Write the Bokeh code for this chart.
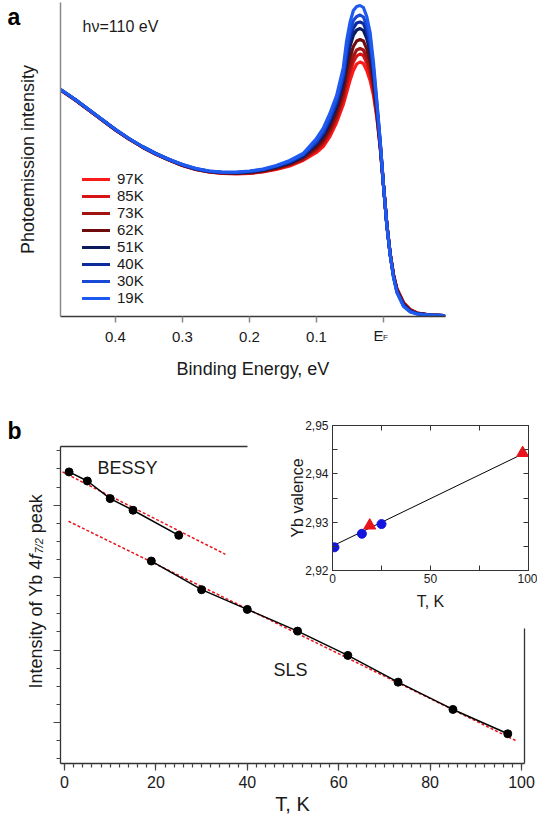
from math import pi

from bokeh.embed import file_html
from bokeh.layouts import column
from bokeh.models import (CustomJSTickFormatter, FixedTicker, GridBox, Label,
                          Legend, LegendItem, LinearAxis, NumeralTickFormatter,
                          Range1d, SingleIntervalTicker)
from bokeh.plotting import figure
from bokeh.resources import INLINE

FONT = "Liberation Sans"
INK = "#1a1a1a"

# ---------------------------------------------------------------- panel a data
binding_energy = [0.482, 0.46, 0.44, 0.42, 0.40, 0.38, 0.36, 0.34, 0.32, 0.30,
                  0.28, 0.26, 0.24, 0.22, 0.20, 0.18, 0.16, 0.14, 0.12, 0.10,
                  0.09, 0.08, 0.07, 0.06, 0.055, 0.05, 0.045, 0.04, 0.035, 0.03,
                  0.025, 0.02, 0.015, 0.01, 0.005, 0.0, -0.005, -0.01, -0.015, -0.02,
                  -0.03, -0.04, -0.05, -0.07, -0.09]

spectrum_97K = [226.5, 216.5, 206.5, 196.5, 186.5, 177.5, 169.5, 162.5, 156.5, 151,
                147, 144.5, 143, 142.5, 143, 144.5, 147, 150.5, 156, 164,
                170, 180, 194, 212, 224, 236, 246, 252.5, 254.5, 253,
                246, 236, 221, 199, 169, 131, 92, 63, 42, 28,
                14, 7, 3.5, 1.5, 1]
spectrum_85K = [226.5, 216.5, 206.5, 196.5, 186.5, 177.5, 169.5, 162.5, 156.5, 151,
                147, 144.5, 143, 143, 143.5, 145, 147.5, 151.5, 157, 166,
                172.5, 183, 198, 217, 231.5, 244, 254.5, 260.5, 262.5, 261,
                253.5, 242.5, 225.5, 201.5, 170, 131, 92, 62.5, 41.5, 27.5,
                13.5, 6.5, 3.5, 1.5, 1]
spectrum_73K = [226.5, 216.5, 206.5, 196.5, 186.5, 177.5, 169.5, 162.5, 156.5, 151,
                147, 144.5, 143.5, 143, 143.5, 145, 148, 152, 157.5, 167.5,
                174.5, 185.5, 200.5, 221, 236.5, 250, 260.5, 266.5, 268, 266.5,
                259, 247.5, 229, 203, 170.5, 131, 92, 62.5, 41.5, 27,
                13, 6.5, 3.5, 1.5, 1]
spectrum_62K = [226.5, 216.5, 206.5, 196.5, 186.5, 177.5, 169.5, 162.5, 156.5, 151.5,
                147.5, 145, 143.5, 143.5, 144, 145.5, 148.5, 152.5, 159, 169.5,
                177, 189, 205, 227, 245, 259, 270, 275.5, 277, 275.5,
                267.5, 255, 234, 206, 172, 131, 91.5, 62, 41, 26.5,
                12.5, 6, 3, 1.5, 1]
spectrum_51K = [227, 217, 207, 197, 187, 178, 170, 163, 157, 151.5,
                147.5, 145, 144, 143.5, 144.5, 146.5, 149.5, 153.5, 160, 172.5,
                180.5, 193.5, 210, 234, 254.5, 270, 281.5, 286.5, 288, 286,
                278, 264.5, 240.5, 209, 173, 131, 91.5, 62, 40, 25.5,
                11.5, 5.5, 3, 1.5, 1]
spectrum_40K = [227, 217, 207, 197, 187, 178, 170, 163, 157, 151.5,
                147.5, 145, 144, 144, 145, 146.5, 150, 154.5, 161, 174,
                183, 196.5, 213, 238.5, 261, 277, 288.5, 293.5, 294.5, 293,
                284.5, 270, 244.5, 211, 174, 131, 91.5, 61.5, 40, 25,
                11, 5, 3, 1.5, 1]
spectrum_30K = [227, 217, 207, 197, 187, 178, 170, 163, 157, 152,
                148, 145.5, 144, 144, 145, 147, 150.5, 155, 162, 175.5,
                185, 199, 216.5, 242.5, 267, 284, 296, 300, 301.5, 299.5,
                291, 276, 248.5, 213, 175, 131, 91, 61.5, 39.5, 24.5,
                10.5, 5, 2.5, 1.5, 1]
spectrum_19K = [227, 217, 207, 197, 187, 178, 170, 163, 157, 152,
                148, 145.5, 144.5, 144.5, 145.5, 147.5, 151, 156, 163, 178,
                188, 203, 221, 249, 276, 294, 306, 310, 311, 309,
                300, 284, 254, 216, 176, 131, 91, 61, 39, 24,
                10, 4.5, 2.5, 1.5, 1]

temperature_labels = ["97K", "85K", "73K", "62K", "51K", "40K", "30K", "19K"]
spectra = [spectrum_97K, spectrum_85K, spectrum_73K, spectrum_62K,
           spectrum_51K, spectrum_40K, spectrum_30K, spectrum_19K]
curve_colors = ["#ff1a1a", "#d81414", "#a01414", "#6e0c0c",
                "#0c1a5c", "#0c2a9c", "#1848d4", "#1e5af0"]

energy_ticks = [0.4, 0.3, 0.2, 0.1]

# ---------------------------------------------------------------- panel b data
bessy_T = [1, 5, 10, 15, 25]
bessy_I = [4.459, 4.334, 4.091, 3.930, 3.584]
bessy_fit_T = [-0.44, 35.2]
bessy_fit_I = [4.459, 3.322]

sls_T = [19, 30, 40, 51, 62, 73, 85, 97]
sls_I = [3.229, 2.834, 2.562, 2.262, 1.927, 1.558, 1.181, 0.845]
sls_fit_T = [0.875, 98.7]
sls_fit_I = [3.778, 0.753]

# inset: Yb valence
val_bessy_T = [1, 15, 25]
val_bessy_V = [2.9248, 2.9276, 2.9296]
val_sls_T = [19, 97]
val_sls_V = [2.9293, 2.9443]
val_fit_T = [0.7, 98.5]
val_fit_V = [2.9252, 2.9444]

inset_T_ticks = [0, 50, 100]
inset_T_minor = [25, 75]
inset_V_ticks = [2.92, 2.93, 2.94, 2.95]
inset_V_minor = [2.925, 2.935, 2.945]


def text_label(p, x, y, text, size, **kw):
    lab = Label(x=x, y=y, text=text, text_font=FONT,
                text_font_size=size, text_color=kw.pop("color", INK), **kw)
    p.add_layout(lab)
    return lab


def text_layer(h):
    """Transparent full-size figure, in pixel coordinates (y downwards),
    carrying the texts that sit outside a plot frame."""
    t = figure(width=537, height=h, x_range=Range1d(0, 537),
               y_range=Range1d(h, 0), output_backend="svg",
               toolbar_location=None, x_axis_location=None,
               y_axis_location=None, min_border=0, min_border_left=0,
               min_border_right=0, min_border_top=0, min_border_bottom=0,
               background_fill_color=None, border_fill_color=None)
    t.outline_line_color = None
    t.grid.grid_line_color = None
    return t


# ================================================================ panel a
pa = figure(width=537, height=400,
            x_range=Range1d(0.482, -0.0925), y_range=Range1d(0, 314),
            output_backend="svg", toolbar_location=None,
            x_axis_location=None, y_axis_location=None,
            min_border_left=60, min_border_right=92,
            min_border_top=2, min_border_bottom=84)
pa.outline_line_color = None
pa.grid.grid_line_color = None

renderers = []
for spec, col in zip(spectra, curve_colors):
    r = pa.line(binding_energy, spec, line_color=col, line_width=3.2,
                line_join="round", line_cap="round")
    renderers.append(r)

xa = LinearAxis(ticker=FixedTicker(ticks=energy_ticks, minor_ticks=[0.0]),
                formatter=NumeralTickFormatter(format="0.0"),
                axis_label="Binding Energy, eV")
xa.axis_line_color = "#3a3a3a"
xa.axis_line_width = 1.5
xa.major_tick_line_color = "#888888"
xa.minor_tick_line_color = "#888888"
xa.major_tick_line_width = 1.5
xa.minor_tick_line_width = 1.5
xa.major_tick_out = 6
xa.major_tick_in = 0
xa.minor_tick_out = 6
xa.minor_tick_in = 0
xa.major_label_standoff = 9
xa.major_label_text_font = FONT
xa.major_label_text_font_size = "15px"
xa.major_label_text_color = INK
xa.axis_label_text_font = FONT
xa.axis_label_text_font_size = "18px"
xa.axis_label_text_font_style = "normal"
xa.axis_label_text_color = INK
xa.axis_label_standoff = 14
pa.add_layout(xa, "below")

ya = LinearAxis(ticker=FixedTicker(ticks=[]), axis_label="Photoemission intensity")
ya.axis_line_color = "#8a8a8a"
ya.axis_line_width = 1.5
ya.major_tick_out = 0
ya.major_tick_in = 0
ya.minor_tick_out = 0
ya.minor_tick_in = 0
ya.major_label_standoff = 0
ya.axis_label_text_font = FONT
ya.axis_label_text_font_size = "18px"
ya.axis_label_text_font_style = "normal"
ya.axis_label_text_color = INK
ya.axis_label_standoff = 23
pa.add_layout(ya, "left")

text_label(pa, 0.449, 290, "h\u03bd=110 eV", "16px", text_baseline="middle")

legend = Legend(items=[LegendItem(label=t, renderers=[r])
                       for t, r in zip(temperature_labels, renderers)],
                location=(22, 10), glyph_width=28, glyph_height=14,
                label_height=14, spacing=0, padding=0, margin=0,
                label_standoff=7, border_line_color=None,
                background_fill_alpha=0)
legend.label_text_font = FONT
legend.label_text_font_size = "15px"
legend.label_text_color = INK
pa.add_layout(legend, "center")

# texts of panel a that lie outside its frame
ta = text_layer(400)
text_label(ta, 7, 16, "a", "23px", text_font_style="bold",
           text_baseline="alphabetic", color="#000000")
text_label(ta, 373, 334.5, "E", "15px", text_baseline="alphabetic")
text_label(ta, 382.5, 336.5, "F", "8px", text_baseline="alphabetic")

# ================================================================ panel b
pb = figure(width=537, height=424,
            x_range=Range1d(-0.875, 100.66), y_range=Range1d(0.435, 4.81),
            output_backend="svg", toolbar_location=None,
            x_axis_location=None, y_axis_location=None,
            min_border_left=60, min_border_right=13,
            min_border_top=46, min_border_bottom=61)
pb.outline_line_color = None
pb.grid.grid_line_color = None

pb.line(bessy_fit_T, bessy_fit_I, line_color="#e8141c", line_width=1.5,
        line_dash="3 2")
pb.line(sls_fit_T, sls_fit_I, line_color="#e8141c", line_width=1.5,
        line_dash="3 2")
pb.line(bessy_T, bessy_I, line_color="black", line_width=1.5)
pb.line(sls_T, sls_I, line_color="black", line_width=1.5)
pb.scatter(bessy_T, bessy_I, size=8, color="black")
pb.scatter(sls_T, sls_I, size=8, color="black")

xb = LinearAxis(ticker=SingleIntervalTicker(interval=20, num_minor_ticks=10),
                axis_label="T, K")
yb = LinearAxis(ticker=SingleIntervalTicker(interval=1, num_minor_ticks=4))
for ax in (xb, yb):
    ax.axis_line_color = "#333333"
    ax.axis_line_width = 1.3
    ax.major_tick_line_color = "#444444"
    ax.minor_tick_line_color = "#444444"
    ax.major_tick_line_width = 1.2
    ax.minor_tick_line_width = 1.2
    ax.major_tick_out = 7
    ax.major_tick_in = 0
    ax.minor_tick_out = 4
    ax.minor_tick_in = 0
    ax.major_label_text_font = FONT
    ax.major_label_text_color = INK
    ax.axis_label_text_font = FONT
    ax.axis_label_text_font_style = "normal"
    ax.axis_label_text_color = INK
xb.major_label_text_font_size = "16px"
xb.major_label_standoff = 5
xb.axis_label_text_font_size = "20px"
xb.axis_label_standoff = 2
yb.major_label_text_color = None   # unlabeled intensity scale
yb.major_label_text_font_size = "10px"
yb.major_label_standoff = 0
pb.add_layout(xb, "below")
pb.add_layout(yb, "left")

# partial frame lines on the top and right, stopping where the inset sits
top_spine = LinearAxis(ticker=FixedTicker(ticks=[]), bounds=(-0.875, 40.04))
right_spine = LinearAxis(ticker=FixedTicker(ticks=[]), bounds=(0.435, 2.30))
for ax in (top_spine, right_spine):
    ax.axis_line_color = "#333333"
    ax.axis_line_width = 1.3
    ax.major_tick_out = 0
    ax.major_tick_in = 0
    ax.minor_tick_out = 0
    ax.minor_tick_in = 0
    ax.major_label_standoff = 0
pb.add_layout(top_spine, "above")
pb.add_layout(right_spine, "right")

text_label(pb, 7.22, 4.51, "BESSY", "18px", text_baseline="middle")
text_label(pb, 45.73, 1.72, "SLS", "18px", text_baseline="middle")

# ================================================================ inset
pin = figure(width=537, height=424,
             x_range=Range1d(0, 100), y_range=Range1d(2.92, 2.95),
             output_backend="svg", toolbar_location=None,
             x_axis_location=None, y_axis_location=None,
             min_border_left=332, min_border_right=9,
             min_border_top=25, min_border_bottom=254,
             background_fill_color=None, border_fill_color=None)
pin.outline_line_color = "#333333"
pin.outline_line_width = 1
pin.grid.grid_line_color = None

pin.line(val_fit_T, val_fit_V, line_color="black", line_width=1)
pin.scatter(val_bessy_T, val_bessy_V, size=9, color="#1414e0")
pin.scatter(val_sls_T, val_sls_V, marker="triangle", size=12, color="#e8141c")

xi = LinearAxis(ticker=FixedTicker(ticks=inset_T_ticks, minor_ticks=inset_T_minor),
                axis_label="T, K")
yi = LinearAxis(ticker=FixedTicker(ticks=inset_V_ticks, minor_ticks=inset_V_minor),
                formatter=CustomJSTickFormatter(
                    code="return tick.toFixed(2).replace('.', ',')"),
                axis_label="Yb valence")
# mirrored tick marks on the top and right edges (no labels)
xi_top = LinearAxis(ticker=FixedTicker(ticks=[],
                                       minor_ticks=inset_T_ticks + inset_T_minor))
yi_right = LinearAxis(ticker=FixedTicker(ticks=[],
                                         minor_ticks=inset_V_ticks + inset_V_minor))
for ax in (xi, yi, xi_top, yi_right):
    ax.axis_line_color = "#333333"
    ax.axis_line_width = 1
    ax.major_tick_line_color = "#333333"
    ax.minor_tick_line_color = "#333333"
    ax.major_tick_in = 5
    ax.major_tick_out = 0
    ax.minor_tick_in = 5
    ax.minor_tick_out = 0
    ax.major_label_text_font = FONT
    ax.major_label_text_font_size = "12px"
    ax.major_label_text_color = INK
    ax.axis_label_text_font = FONT
    ax.axis_label_text_font_size = "16px"
    ax.axis_label_text_font_style = "normal"
    ax.axis_label_text_color = INK
xi.major_label_standoff = 3
xi.axis_label_standoff = 7
yi.major_label_standoff = 4
yi.axis_label_standoff = -4
for ax in (xi_top, yi_right):
    ax.major_label_standoff = 0
pin.add_layout(xi, "below")
pin.add_layout(yi, "left")
pin.add_layout(xi_top, "above")
pin.add_layout(yi_right, "right")

# texts of panel b that lie outside its frame (pixel coordinates of the cell)
tb = text_layer(424)
text_label(tb, 7, 30, "b", "23px", text_font_style="bold",
           text_baseline="alphabetic", color="#000000")
# rotated y title with italic f and subscript 7/2
text_label(tb, 35, 288, "Intensity of Yb 4", "18px", angle=pi / 2,
           text_baseline="alphabetic")
text_label(tb, 35, 158.9, "f", "18px", angle=pi / 2,
           text_font_style="italic", text_baseline="alphabetic")
text_label(tb, 38, 153, "7/2", "11px", angle=pi / 2,
           text_font_style="italic", text_baseline="alphabetic")
text_label(tb, 35, 132.7, "peak", "18px", angle=pi / 2,
           text_baseline="alphabetic")

# panel b, its inset and the text layers share grid cells; the upper layers
# are transparent.  Each figure sits in its own column so the grid does not
# align their frames.
layout = GridBox(children=[(column(pa), 0, 0), (column(ta), 0, 0),
                           (column(pb), 1, 0), (column(pin), 1, 0),
                           (column(tb), 1, 0)])

open("out.html", "w").write(file_html(layout, INLINE))
